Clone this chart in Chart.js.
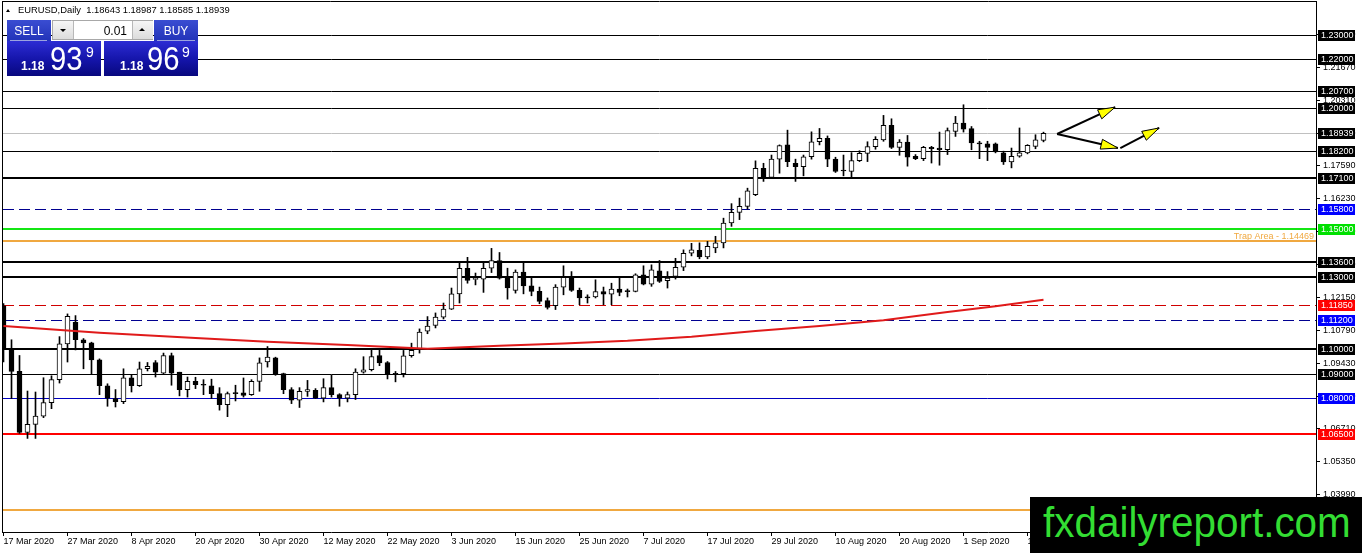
<!DOCTYPE html>
<html><head><meta charset="utf-8">
<script src="https://cdn.jsdelivr.net/npm/chart.js@4.4.1/dist/chart.umd.min.js"></script>
<style>
html,body{margin:0;padding:0;background:#fff;overflow:hidden;}
#wrap{position:relative;width:1362px;height:553px;overflow:hidden;}
canvas{position:absolute;left:0;top:0;}
.ov{position:absolute;white-space:nowrap;line-height:1;font-family:'Liberation Sans',Arial,sans-serif;}
.btn{background:linear-gradient(#3a4dd2,#2233b8);color:#fff;font-size:12px;display:flex;align-items:center;justify-content:center;}
.pbox{background:linear-gradient(#2c2cd4 0%,#1414a8 55%,#08087e 100%);}
.ptxt{color:#fff;}
.tri-d{position:absolute;width:0;height:0;border-left:3px solid transparent;border-right:3px solid transparent;border-top:3px solid #000;}
.tri-u{position:absolute;width:0;height:0;border-left:3px solid transparent;border-right:3px solid transparent;border-bottom:3px solid #000;}
</style></head><body>
<div id="wrap">
<canvas id="c" width="1362" height="553"></canvas>

<div class="ov" style="left:6px;top:9px;width:0;height:0;border-left:2px solid transparent;border-right:2px solid transparent;border-bottom:3px solid #000"></div>
<div class="ov" style="left:18px;top:5px;font-size:9.4px;color:#000">EURUSD,Daily&nbsp; 1.18643 1.18987 1.18585 1.18939</div>

<div class="ov btn" style="left:7px;top:20px;width:44px;height:21px;">SELL</div>
<div class="ov" style="left:10px;top:40px;width:37px;height:1px;background:rgba(255,255,255,0.55)"></div>
<div class="ov btn" style="left:154px;top:20px;width:44px;height:21px;">BUY</div>
<div class="ov" style="left:157px;top:40px;width:38px;height:1px;background:rgba(255,255,255,0.55)"></div>

<div class="ov" style="left:52px;top:20px;width:99px;height:18px;border:1px solid #a8a8a8;background:#fff;">
  <div style="position:absolute;left:0;top:0;width:20px;height:18px;background:linear-gradient(#f6f6f6,#dcdcdc);border-right:1px solid #b8b8b8"></div>
  <div class="tri-d" style="left:7px;top:8px"></div>
  <div style="position:absolute;right:25px;top:4px;font-size:12px;line-height:12px;color:#000">0.01</div>
  <div style="position:absolute;left:79px;top:0;width:20px;height:18px;background:linear-gradient(#f6f6f6,#dcdcdc);border-left:1px solid #b8b8b8"></div>
  <div class="tri-u" style="left:86px;top:7px"></div>
</div>

<div class="ov pbox" style="left:7px;top:41px;width:94px;height:35px"></div>
<div class="ov pbox" style="left:104px;top:41px;width:94px;height:35px"></div>
<div class="ov ptxt" style="left:21px;top:60px;font-size:12px;font-weight:bold">1.18</div>
<div class="ov ptxt" style="left:50px;top:41px;font-size:34px;transform:scaleX(0.86);transform-origin:0 0">93</div>
<div class="ov ptxt" style="left:86px;top:45px;font-size:14px">9</div>
<div class="ov ptxt" style="left:120px;top:60px;font-size:12px;font-weight:bold">1.18</div>
<div class="ov ptxt" style="left:147px;top:41px;font-size:34px;transform:scaleX(0.86);transform-origin:0 0">96</div>
<div class="ov ptxt" style="left:182px;top:45px;font-size:14px">9</div>

<div class="ov" style="left:1030px;top:497px;width:332px;height:56px;background:#000"></div>
<div class="ov" style="left:1043px;top:501px;font-size:43px;color:#33dd33;transform:scaleX(0.94);transform-origin:0 0">fxdailyreport.com</div>
</div>

<script>
const dates = [
'17 Mar 2020','18 Mar 2020','19 Mar 2020','20 Mar 2020','23 Mar 2020','24 Mar 2020','25 Mar 2020','26 Mar 2020','27 Mar 2020','30 Mar 2020',
'31 Mar 2020','1 Apr 2020','2 Apr 2020','3 Apr 2020','6 Apr 2020','7 Apr 2020','8 Apr 2020','9 Apr 2020','10 Apr 2020','13 Apr 2020',
'14 Apr 2020','15 Apr 2020','16 Apr 2020','17 Apr 2020','20 Apr 2020','21 Apr 2020','22 Apr 2020','23 Apr 2020','24 Apr 2020','27 Apr 2020',
'28 Apr 2020','29 Apr 2020','30 Apr 2020','1 May 2020','4 May 2020','5 May 2020','6 May 2020','7 May 2020','8 May 2020','11 May 2020',
'12 May 2020','13 May 2020','14 May 2020','15 May 2020','18 May 2020','19 May 2020','20 May 2020','21 May 2020','22 May 2020','25 May 2020',
'26 May 2020','27 May 2020','28 May 2020','29 May 2020','1 Jun 2020','2 Jun 2020','3 Jun 2020','4 Jun 2020','5 Jun 2020','8 Jun 2020',
'9 Jun 2020','10 Jun 2020','11 Jun 2020','12 Jun 2020','15 Jun 2020','16 Jun 2020','17 Jun 2020','18 Jun 2020','19 Jun 2020','22 Jun 2020',
'23 Jun 2020','24 Jun 2020','25 Jun 2020','26 Jun 2020','29 Jun 2020','30 Jun 2020','1 Jul 2020','2 Jul 2020','3 Jul 2020','6 Jul 2020',
'7 Jul 2020','8 Jul 2020','9 Jul 2020','10 Jul 2020','13 Jul 2020','14 Jul 2020','15 Jul 2020','16 Jul 2020','17 Jul 2020','20 Jul 2020',
'21 Jul 2020','22 Jul 2020','23 Jul 2020','24 Jul 2020','27 Jul 2020','28 Jul 2020','29 Jul 2020','30 Jul 2020','31 Jul 2020','3 Aug 2020',
'4 Aug 2020','5 Aug 2020','6 Aug 2020','7 Aug 2020','10 Aug 2020','11 Aug 2020','12 Aug 2020','13 Aug 2020','14 Aug 2020','17 Aug 2020',
'18 Aug 2020','19 Aug 2020','20 Aug 2020','21 Aug 2020','24 Aug 2020','25 Aug 2020','26 Aug 2020','27 Aug 2020','28 Aug 2020','31 Aug 2020',
'1 Sep 2020','2 Sep 2020','3 Sep 2020','4 Sep 2020','7 Sep 2020','8 Sep 2020','9 Sep 2020','10 Sep 2020','11 Sep 2020','14 Sep 2020',
'15 Sep 2020'];

const opens = [
1.1180,1.1003,1.0909,1.0657,1.0690,1.0724,1.0780,1.0875,1.1023,1.1112,
1.1040,1.1027,1.0957,1.0850,1.0797,1.0784,1.0883,1.0850,1.0920,1.0946,
1.0902,1.0975,1.0906,1.0834,1.0868,1.0856,1.0850,1.0817,1.0772,1.0821,
1.0821,1.0813,1.0868,1.0948,1.0965,1.0900,1.0834,1.0790,1.0826,1.0831,
1.0799,1.0842,1.0813,1.0799,1.0813,1.0906,1.0916,1.0975,1.0946,1.0900,
1.0900,1.0974,1.1003,1.1076,1.1099,1.1134,1.1167,1.1230,1.1336,1.1290,
1.1291,1.1336,1.1368,1.1295,1.1244,1.1320,1.1263,1.1240,1.1202,1.1181,
1.1258,1.1298,1.1244,1.1217,1.1217,1.1239,1.1229,1.1250,1.1243,1.1240,
1.1309,1.1270,1.1325,1.1284,1.1302,1.1340,1.1398,1.1410,1.1383,1.1420,
1.1441,1.1523,1.1567,1.1592,1.1640,1.1749,1.1712,1.1787,1.1846,1.1770,
1.1756,1.1797,1.1859,1.1873,1.1787,1.1739,1.1736,1.1781,1.1811,1.1839,
1.1867,1.1927,1.1836,1.1858,1.1799,1.1789,1.1836,1.1833,1.1826,1.1902,
1.1936,1.1913,1.1854,1.1850,1.1850,1.1813,1.1776,1.1799,1.1813,1.1840,
1.18643];
const highs = [
1.1190,1.1040,1.0975,1.0828,1.0824,1.0883,1.0891,1.1053,1.1147,1.1140,
1.1045,1.1030,1.0961,1.0858,1.0834,1.0920,1.0893,1.0948,1.0946,1.0954,
1.0985,1.0985,1.0906,1.0886,1.0885,1.0875,1.0877,1.0842,1.0824,1.0852,
1.0882,1.0875,1.0965,1.1012,1.0968,1.0902,1.0842,1.0842,1.0872,1.0838,
1.0879,1.0893,1.0817,1.0824,1.0920,1.0970,1.0998,1.1002,1.0950,1.0909,
1.0996,1.1026,1.1085,1.1136,1.1151,1.1192,1.1254,1.1357,1.1381,1.1316,
1.1357,1.1418,1.1401,1.1336,1.1329,1.1357,1.1295,1.1258,1.1213,1.1268,
1.1346,1.1322,1.1254,1.1226,1.1288,1.1258,1.1274,1.1299,1.1250,1.1313,
1.1346,1.1350,1.1368,1.1322,1.1377,1.1412,1.1439,1.1441,1.1447,1.1468,
1.1543,1.1603,1.1626,1.1667,1.1780,1.1770,1.1804,1.1846,1.1907,1.1787,
1.1804,1.1900,1.1914,1.1883,1.1795,1.1804,1.1814,1.1822,1.1859,1.1880,
1.1968,1.1954,1.1868,1.1885,1.1806,1.1840,1.1840,1.1899,1.1916,1.1964,
1.2012,1.1922,1.1861,1.1861,1.1854,1.1820,1.1833,1.1916,1.1847,1.1888,
1.18987];
const lows = [
1.0948,1.0797,1.0653,1.0632,1.0632,1.0718,1.0755,1.0861,1.0948,1.0998,
1.0920,1.0897,1.0813,1.0765,1.0762,1.0776,1.0824,1.0847,1.0911,1.0886,
1.0900,1.0852,1.0808,1.0803,1.0838,1.0813,1.0797,1.0749,1.0722,1.0787,
1.0803,1.0810,1.0827,1.0927,1.0893,1.0817,1.0776,1.0760,1.0806,1.0797,
1.0783,1.0803,1.0765,1.0783,1.0793,1.0902,1.0911,1.0933,1.0878,1.0866,
1.0886,1.0968,1.0985,1.1065,1.1089,1.1126,1.1165,1.1192,1.1274,1.1267,
1.1236,1.1318,1.1291,1.1208,1.1233,1.1230,1.1222,1.1189,1.1167,1.1165,
1.1226,1.1240,1.1185,1.1192,1.1213,1.1185,1.1185,1.1222,1.1217,1.1238,
1.1267,1.1261,1.1277,1.1254,1.1291,1.1326,1.1387,1.1375,1.1375,1.1400,
1.1420,1.1509,1.1537,1.1581,1.1636,1.1695,1.1712,1.1729,1.1756,1.1695,
1.1718,1.1787,1.1846,1.1756,1.1732,1.1718,1.1712,1.1777,1.1777,1.1828,
1.1861,1.1831,1.1803,1.1758,1.1785,1.1781,1.1771,1.1762,1.1806,1.1881,
1.1899,1.1826,1.1789,1.1781,1.1813,1.1765,1.1751,1.1795,1.1809,1.1830,
1.18585];
const closes = [
1.1003,1.0909,1.0657,1.0690,1.0724,1.0780,1.0875,1.1023,1.1137,1.1040,
1.1027,1.0957,1.0850,1.0799,1.0784,1.0883,1.0850,1.0920,1.0930,1.0906,
1.0975,1.0902,1.0834,1.0868,1.0854,1.0852,1.0817,1.0772,1.0817,1.0817,
1.0810,1.0868,1.0945,1.0968,1.0897,1.0834,1.0790,1.0827,1.0834,1.0799,
1.0842,1.0813,1.0799,1.0813,1.0906,1.0916,1.0971,1.0944,1.0897,1.0897,
1.0974,1.0996,1.1072,1.1097,1.1134,1.1167,1.1230,1.1336,1.1285,1.1292,
1.1336,1.1368,1.1295,1.1254,1.1320,1.1263,1.1240,1.1199,1.1174,1.1258,
1.1298,1.1244,1.1213,1.1213,1.1239,1.1229,1.1250,1.1236,1.1239,1.1309,
1.1270,1.1329,1.1281,1.1295,1.1340,1.1398,1.1412,1.1383,1.1427,1.1441,
1.1523,1.1567,1.1592,1.1656,1.1749,1.1715,1.1787,1.1843,1.1777,1.1756,
1.1797,1.1859,1.1873,1.1787,1.1736,1.1738,1.1781,1.1811,1.1839,1.1869,
1.1927,1.1836,1.1858,1.1795,1.1789,1.1836,1.1830,1.1826,1.1905,1.1936,
1.1911,1.1854,1.1850,1.1836,1.1817,1.1776,1.1799,1.1813,1.1844,1.1867,
1.18939];

// moving average (read at selected bars)
const maBars   = [0,12,24,33,43,53,62,70,78,86,94,102,110,118,124,130];
const maValues = [1.1097,1.1069,1.1047,1.1032,1.1018,1.1003,1.1015,1.1025,1.1036,1.1053,1.1076,1.1097,1.1121,1.1155,1.1179,1.1206];

const tickDates = ['17 Mar 2020','27 Mar 2020','8 Apr 2020','20 Apr 2020','30 Apr 2020','12 May 2020','22 May 2020','3 Jun 2020',
'15 Jun 2020','25 Jun 2020','7 Jul 2020','17 Jul 2020','29 Jul 2020','10 Aug 2020','20 Aug 2020','1 Sep 2020','11 Sep 2020'];
const yTickValues = [1.03990,1.05350,1.06710,1.08070,1.09430,1.10790,1.12150,1.13510,1.14870,1.16230,1.17590,1.18950,1.20310,1.21670,1.23030];

const levelValues = [1.23000,1.22000,1.20700,1.20000,1.18200,1.17100,1.15800,1.15000,1.14469,1.13600,1.13000,1.11850,1.11200,1.10000,1.09000,1.08000,1.06500,1.03350];
const trapLevel = 1.14469;
const trapLabel = 'Trap Area - 1.14469';
// arrows: [fromBar, fromPrice, toBar, toPrice]
const arrows = [[131.7,1.1891,138.95,1.2002],[131.7,1.1891,139.3,1.1833],[139.6,1.1833,144.45,1.1916]];

// styles (separate from data)
const levelColors = ['#000','#000','#000','#000','#000','#000','#000090','#14e614','#f0a840','#000','#000','#d00000','#000090','#000','#000','#0000c0','#ff0000','#f0a840'];
const levelWidths = [1,1,1,1,1,2,1,2,2,2,2,1,1,2,1,1,2,2];
const levelDashed = [0,0,0,0,0,0,1,0,0,0,0,1,1,0,0,0,0,0];
const levelBoxes  = ['#000','#000','#000','#000','#000','#000','#0000ff','#00e000',null,'#000','#000','#ff0000','#0000ff','#000','#000','#0000ff','#ff0000','#f0a840'];

const FONT = "'Liberation Sans', Arial, sans-serif";
Chart.defaults.font.family = FONT;
Chart.defaults.font.size = 9;
Chart.defaults.color = '#000';

const bodyData = dates.map((d,i) => ({x:i, y:[opens[i], closes[i]]}));
const wickData = dates.map((d,i) => ({x:i, y:[lows[i], highs[i]]}));
const maData = maBars.map((b,k) => ({x:b, y:maValues[k]}));
const tickIdx = tickDates.map(t => dates.indexOf(t));

const overlay = {
  id:'overlay',
  beforeDatasetsDraw(chart){
    const {ctx, chartArea:a, scales:{y}} = chart;
    ctx.save();
    ctx.beginPath(); ctx.rect(a.left, a.top, a.right-a.left, a.bottom-a.top); ctx.clip();
    const drawH = (v,color,w,dashed) => {
      let py = Math.round(y.getPixelForValue(v)); if (w % 2) py += 0.5;
      ctx.beginPath(); ctx.setLineDash(dashed ? [11,5] : []);
      ctx.strokeStyle = color; ctx.lineWidth = w;
      ctx.moveTo(a.left, py); ctx.lineTo(a.right, py); ctx.stroke();
    };
    drawH(closes[closes.length-1], '#c0c0c0', 1, 0);
    levelValues.forEach((v,k) => drawH(v, levelColors[k], levelWidths[k], levelDashed[k]));
    ctx.restore();
  },
  afterDatasetsDraw(chart){
    const {ctx, chartArea:a, scales:{x, y}} = chart;
    ctx.save();
    ctx.font = '9px ' + FONT; ctx.fillStyle = '#f0a840';
    ctx.textAlign = 'right'; ctx.textBaseline = 'alphabetic';
    ctx.fillText(trapLabel, a.right - 2, Math.round(y.getPixelForValue(trapLevel)) - 2);
    arrows.forEach(([x1,y1,x2,y2]) => {
      const X1 = x.getPixelForValue(x1), Y1 = y.getPixelForValue(y1);
      const X2 = x.getPixelForValue(x2), Y2 = y.getPixelForValue(y2);
      ctx.setLineDash([]); ctx.strokeStyle = '#000'; ctx.lineWidth = 2;
      ctx.beginPath(); ctx.moveTo(X1,Y1); ctx.lineTo(X2,Y2); ctx.stroke();
      const ang = Math.atan2(Y2-Y1, X2-X1), L = 17, H = 5;
      const bx = X2 - L*Math.cos(ang), by = Y2 - L*Math.sin(ang);
      ctx.beginPath(); ctx.moveTo(X2,Y2);
      ctx.lineTo(bx + H*Math.sin(ang), by - H*Math.cos(ang));
      ctx.lineTo(bx - H*Math.sin(ang), by + H*Math.cos(ang));
      ctx.closePath(); ctx.fillStyle = '#ffff00'; ctx.fill();
      ctx.lineWidth = 1; ctx.stroke();
    });
    ctx.restore();
  },
  afterDraw(chart){
    const {ctx, chartArea:a, scales:{y}} = chart;
    ctx.save();
    ctx.strokeStyle = '#000'; ctx.lineWidth = 1;
    ctx.beginPath();
    ctx.moveTo(2.5, 1); ctx.lineTo(2.5, a.bottom + 1);
    ctx.moveTo(2, 1.5); ctx.lineTo(a.right + 1, 1.5);
    ctx.stroke();
    ctx.font = '9px ' + FONT; ctx.textAlign = 'left'; ctx.textBaseline = 'middle';
    const box = (v, color) => {
      const py = Math.round(y.getPixelForValue(v));
      ctx.fillStyle = color; ctx.fillRect(a.right + 2, py - 5, 37, 11);
      ctx.fillStyle = '#fff'; ctx.fillText(v.toFixed(5), a.right + 5, py + 0.5);
    };
    levelValues.forEach((v,k) => { if (levelBoxes[k]) box(v, levelBoxes[k]); });
    box(closes[closes.length-1], '#000');
    ctx.restore();
  }
};

new Chart(document.getElementById('c'), {
  type:'bar',
  data:{
    datasets:[
      {type:'line', data:maData, borderColor:'#e01a1a', borderWidth:2, pointRadius:0, tension:0, order:0},
      {type:'bar', data:bodyData, grouped:false, barThickness:5, minBarLength:1, borderWidth:1, borderSkipped:false,
        borderColor:'#000',
        backgroundColor:(c) => (closes[c.dataIndex] >= opens[c.dataIndex] ? '#ffffff' : '#000000'), order:1},
      {type:'bar', data:wickData, grouped:false, barThickness:1, borderWidth:0, backgroundColor:'#000', order:2}
    ]
  },
  options:{
    responsive:false, devicePixelRatio:1, animation:false, events:[],
    layout:{padding:{left:3, top:2, right:0, bottom:0}},
    plugins:{legend:{display:false}, tooltip:{enabled:false}, title:{display:false}},
    scales:{
      x:{
        type:'linear', offset:false, min:-0.0625, max:-0.0625 + 1313/8,
        grid:{display:true, offset:false, drawOnChartArea:false, drawTicks:true, tickLength:4, color:'#000'},
        border:{display:true, color:'#000'},
        ticks:{autoSkip:false, maxRotation:0, align:'start', padding:0, color:'#000', font:{size:9},
          callback:(v) => dates[v] || ''},
        afterBuildTicks:(s) => { s.ticks = tickIdx.map(i => ({value:i})); },
        afterFit:(s) => { s.height = 21; s.paddingLeft = 0; s.paddingRight = 0; }
      },
      y:{
        type:'linear', position:'right', min:1.0245, max:1.2437,
        grid:{display:true, drawOnChartArea:false, drawTicks:true, tickLength:4, color:'#000'},
        border:{display:true, color:'#000'},
        ticks:{autoSkip:false, padding:3, color:'#000', font:{size:9},
          callback:(v) => Number(v).toFixed(5)},
        afterBuildTicks:(s) => { s.ticks = yTickValues.map(v => ({value:v})); },
        afterFit:(s) => { s.width = 46; s.paddingTop = 0; s.paddingBottom = 0; }
      }
    }
  },
  plugins:[overlay]
});
</script>
</body></html>
